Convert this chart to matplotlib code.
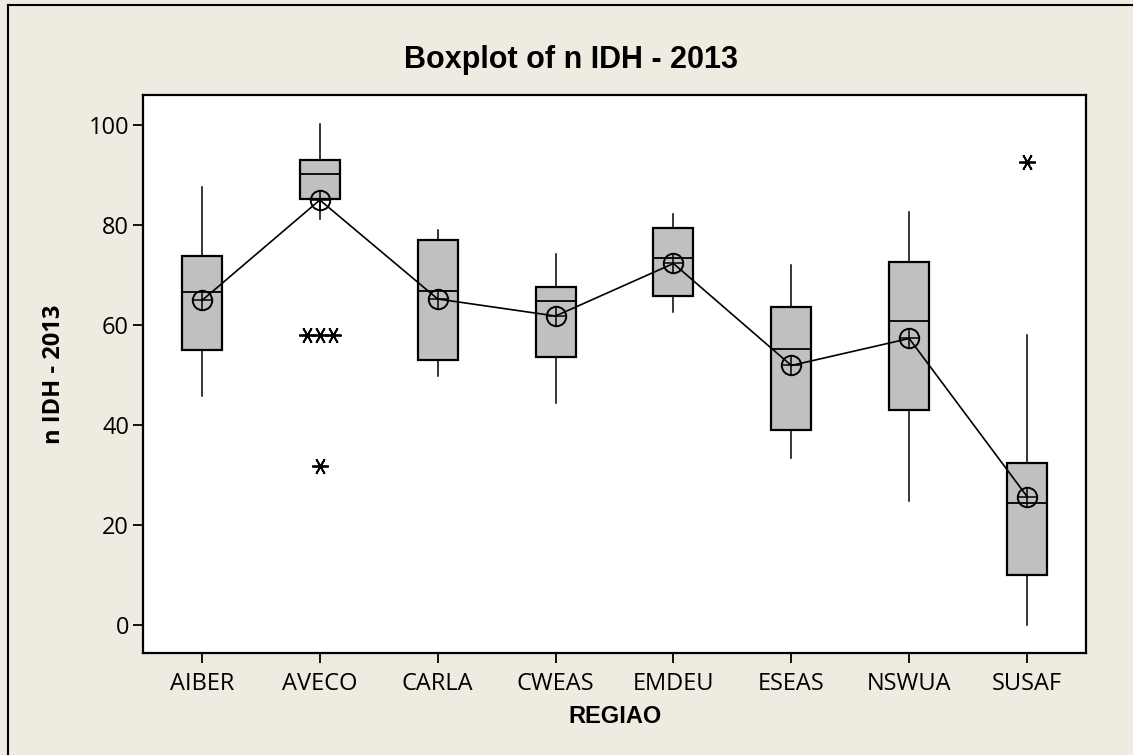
import matplotlib
matplotlib.use("Agg")
import matplotlib.pyplot as plt
from matplotlib.lines import Line2D
import numpy as np

regions = ["AIBER", "AVECO", "CARLA", "CWEAS", "EMDEU", "ESEAS", "NSWUA", "SUSAF"]
whis_low = [45.8, 81.1, 49.7, 44.5, 62.5, 33.5, 24.9, 0.1]
q1 = [54.9, 85.1, 52.9, 53.5, 65.8, 39.1, 43.0, 10.0]
median = [66.6, 90.2, 66.7, 64.7, 73.4, 55.1, 60.7, 24.5]
q3 = [73.8, 93.0, 76.9, 67.5, 79.3, 63.5, 72.5, 32.5]
whis_high = [87.6, 100.1, 78.9, 74.1, 82.1, 71.9, 82.5, 58.0]
means = [64.9, 85.0, 65.2, 61.8, 72.3, 51.9, 57.3, 25.7]
outliers = [[], [57.9, 57.9, 57.9, 31.9], [], [], [], [], [], [92.5]]
yticks = [0, 20, 40, 60, 80, 100]

BG = "#EFEBE1"
BOXC = "#C0C0C0"

fig = plt.figure(figsize=(11.33, 7.55), dpi=100, facecolor=BG)
ax = fig.add_axes([143/1133, 1-653/755, (1086-143)/1133, (653-95)/755])
ax.set_facecolor("white")

pos = np.arange(1, len(regions) + 1)
stats = []
for i in range(len(regions)):
    stats.append(dict(med=median[i], q1=q1[i], q3=q3[i], whislo=whis_low[i],
                      whishi=whis_high[i], mean=means[i], fliers=[], label=regions[i]))

ax.bxp(stats, positions=pos, widths=0.34, patch_artist=True, showfliers=False,
       showcaps=False, showmeans=False,
       boxprops=dict(facecolor=BOXC, edgecolor="black", linewidth=1.6),
       medianprops=dict(color="black", linewidth=1.3),
       whiskerprops=dict(color="black", linewidth=1.1))

# mean connect line and symbols
ax.plot(pos, means, color="black", linewidth=1.2, zorder=4)
ax.plot(pos, means, linestyle="none", marker="o", ms=14, mfc="none", mec="black",
        mew=1.4, zorder=5)
ax.plot(pos, means, linestyle="none", marker="+", ms=14, mec="black", mew=1.1, zorder=5)

# outliers (tied values shown side by side)
for i, vals in enumerate(outliers):
    uniq = {}
    for v in vals:
        uniq[v] = uniq.get(v, 0) + 1
    for v, n in uniq.items():
        offs = (np.arange(n) - (n - 1) / 2) * 0.11
        ax.plot(pos[i] + offs, [v] * n, linestyle="none", marker=(6, 2, 90), ms=12,
                mec="black", mew=1.3, zorder=5)

ax.set_xlim(0.5, 8.5)
ax.set_ylim(-5.6, 106)
ax.set_xticks(pos)
ax.set_xticklabels(regions, fontsize=17, family="Open Sans")
ax.set_yticks(yticks)
ax.set_yticklabels([str(t) for t in yticks], fontsize=17, family="Open Sans")
ax.tick_params(axis="x", direction="out", length=7, width=1.3, pad=7)
ax.tick_params(axis="y", direction="out", length=7, width=1.3, pad=3)
for s in ax.spines.values():
    s.set_linewidth(1.6)

ax.set_xlabel("REGIAO", fontsize=17, fontweight="bold", family="Liberation Sans", labelpad=6)
ax.set_ylabel("n IDH - 2013", fontsize=17, fontweight="bold", family="Open Sans", labelpad=16)
fig.text(571/1133, 1-60/755, "Boxplot of n IDH - 2013", ha="center", va="center",
         fontsize=22, fontweight="bold", family="Liberation Sans")

# outer frame (left and top edges visible)
fig.add_artist(Line2D([7.5/1133, 7.5/1133], [0, 1-4.5/755], transform=fig.transFigure,
                      color="black", linewidth=1.5))
fig.add_artist(Line2D([7.5/1133, 1], [1-4.5/755, 1-4.5/755], transform=fig.transFigure,
                      color="black", linewidth=1.5))

fig.savefig("out.png", dpi=100, facecolor=BG)
